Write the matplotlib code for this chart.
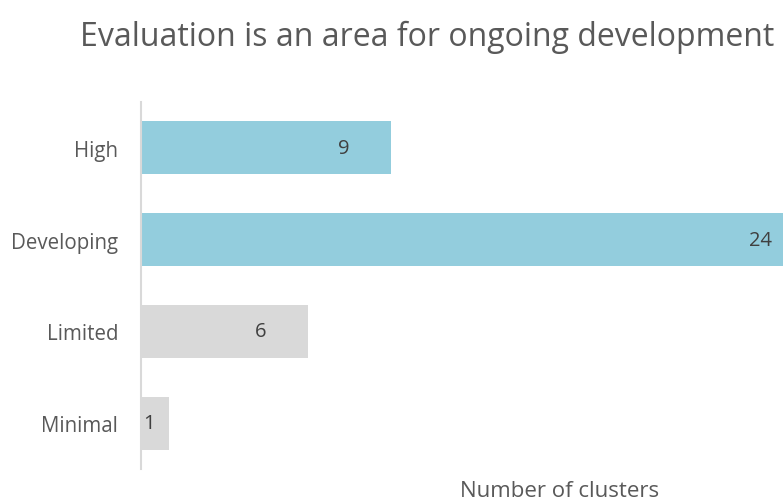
import matplotlib
matplotlib.use("Agg")
import matplotlib.pyplot as plt
import numpy as np

categories = ["High", "Developing", "Limited", "Minimal"]
clusters = [9, 24, 6, 1]
bar_colors = ["#93CDDD", "#93CDDD", "#D9D9D9", "#D9D9D9"]

plt.rcParams["font.family"] = ["Open Sans", "DejaVu Sans"]

fig = plt.figure(figsize=(7.83, 5.02), dpi=100)
ax = fig.add_axes([141 / 783, 32 / 502, 642 / 783, 367 / 502])

y = np.arange(len(categories))
ax.barh(y, clusters, height=0.575, color=bar_colors)

# value labels sit inside the end of each bar
for yi, v in zip(y, clusters):
    ax.text(max(v - 1.7, 0.3), yi, str(v), ha="center", va="center",
            fontsize=14.5, color="#404040")

ax.set_xlim(0, 642 / 27.8)
ax.set_ylim(3.5, -0.5)
ax.set_yticks(y)
ax.set_yticklabels(categories, fontsize=14.8, color="#595959")
ax.tick_params(axis="y", length=0, pad=16.5)
ax.set_xticks([])

for side in ["top", "right", "bottom"]:
    ax.spines[side].set_visible(False)
ax.spines["left"].set_color("#D9D9D9")
ax.spines["left"].set_linewidth(1.5)

fig.text(427 / 783, 1 - 37 / 502, "Evaluation is an area for ongoing development",
         ha="center", va="center", fontsize=23, color="#595959")
fig.text(560 / 783, 1 - 492 / 502, "Number of clusters",
         ha="center", va="center", fontsize=16, color="#595959")

fig.savefig("out.png", dpi=100)
